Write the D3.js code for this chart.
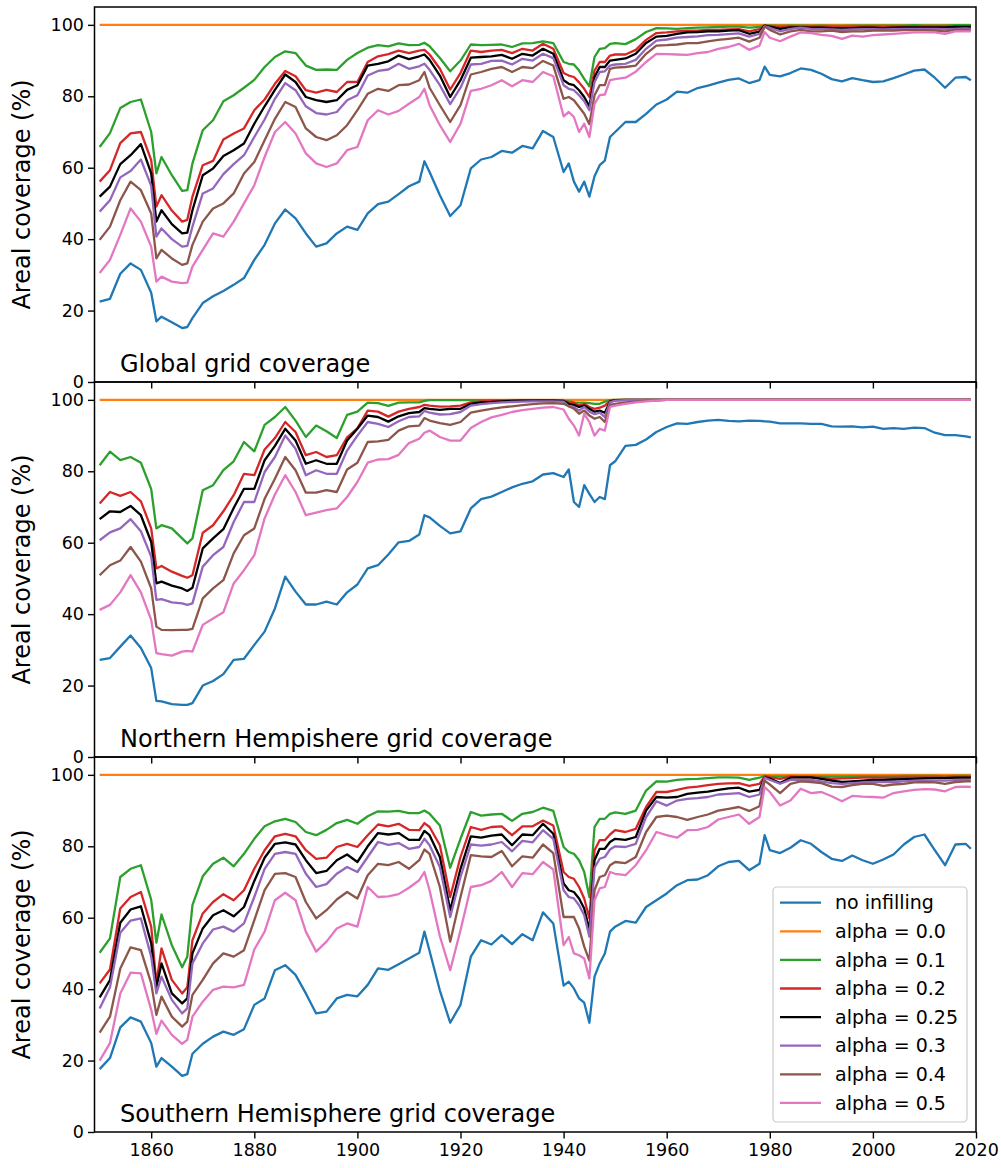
<!DOCTYPE html>
<html>
<head>
<meta charset="utf-8">
<script src="https://cdn.jsdelivr.net/npm/d3@7"></script>
<style>
  body { margin: 0; background: #fff; }
  svg { display: block; font-family: "DejaVu Sans", sans-serif; }
</style>
</head>
<body>
<svg id="chart" width="1001" height="1168"></svg>
<script>
const years = [1850,1852,1854,1856,1858,1860,1861,1862,1864,1866,1867,
  1868,1870,1872,1874,1876,1878,1880,1882,1884,1886,1888,1890,1892,1894,1896,1898,1900,1902,1904,1906,
  1908,1910,1912,1913,1914,1916,1918,1920,1922,1924,1926,1928,1930,1932,1934,1936,1938,1940,
  1941,1942,1943,1944,1945,1946,1947,1948,1949,1950,1952,1954,1956,1958,1960,
  1962,1964,1966,1968,1970,1972,1974,1976,1978,1979,1980,1982,1984,1986,1988,1990,1992,1994,1996,1998,2000,2002,2004,2006,2008,2010,2012,2014,2016,2018,2019];

// alpha = 0.0 gives full coverage in every panel
const alpha00 = [100,100,100,100,100,100,100,100,100,100,100,
  100,100,100,100,100,100,100,100,100,100,100,100,100,100,100,100,100,100,100,100,
  100,100,100,100,100,100,100,100,100,100,100,100,100,100,100,100,100,100,
  100,100,100,100,100,100,100,100,100,100,100,100,100,100,100,
  100,100,100,100,100,100,100,100,100,100,100,100,100,100,100,100,100,100,100,100,100,100,100,100,100,100,100,100,100,100,100];

// Global
const globalNone = [22.5,23.3,30.3,33.2,31.4,25.0,17.0,18.3,16.7,15.1,15.4,
  17.9,22.1,24.0,25.5,27.2,29.1,34.2,38.4,44.4,48.3,45.8,41.6,37.9,38.8,41.6,43.5,42.6,47.2,49.8,50.5,
  52.6,54.8,56.1,61.8,58.8,52.3,46.5,49.5,59.8,62.3,63.0,64.7,64.2,66.1,65.4,70.3,68.6,58.8,
  61.2,56.1,53.3,56.1,51.9,57.6,60.7,62.0,68.6,70.0,72.8,72.8,75.1,77.7,79.1,
  81.3,81.0,82.3,83.0,83.8,84.6,85.0,83.7,84.5,88.3,86.0,85.6,86.5,87.8,87.4,86.3,84.8,84.2,85.1,84.5,84.0,84.2,85.1,86.1,87.2,87.5,85.2,82.4,85.2,85.4,84.5];
const globalA10 = [65.8,69.7,76.7,78.4,79.1,70.0,58.4,63.0,57.9,53.5,53.7,
  61.2,70.5,73.3,78.6,80.3,82.4,84.6,88.2,91.0,92.6,92.1,88.6,87.4,87.5,87.4,90.2,92.1,93.6,94.3,94.0,
  94.8,94.3,94.4,95.0,94.0,90.7,87.0,90.0,94.5,94.3,94.4,94.5,93.8,94.8,94.9,95.4,94.9,89.6,
  89.1,88.9,87.2,84.9,82.8,91.0,93.3,93.5,94.7,94.9,94.6,96.0,98.0,99.1,99.0,
  98.9,99.1,99.2,99.3,99.4,99.5,99.5,99.2,99.4,99.8,99.8,99.7,99.8,99.8,99.7,99.8,99.7,99.7,99.8,99.8,99.8,99.8,99.8,99.8,99.9,99.8,99.8,99.8,99.9,99.9,99.9];
const globalA20 = [56.1,59.3,66.9,69.6,70.0,62.1,49.1,52.3,48.0,44.9,45.4,
  51.9,60.7,61.9,67.9,69.6,71.0,76.1,79.1,83.5,87.1,85.6,81.7,81.0,81.8,81.2,84.0,84.0,89.6,91.2,91.8,
  92.8,92.1,92.8,93.0,91.7,87.7,81.9,86.5,92.8,92.4,92.8,93.0,92.1,93.3,92.8,94.7,93.3,86.5,
  85.8,85.4,83.9,82.1,79.8,87.2,89.6,89.6,91.4,91.7,91.7,93.0,95.8,97.7,97.9,
  98.2,98.4,98.4,98.6,98.6,98.7,98.8,98.2,98.8,99.8,99.6,99.3,99.5,99.5,99.4,99.5,99.4,99.3,99.4,99.5,99.5,99.4,99.5,99.5,99.6,99.5,99.5,99.5,99.6,99.6,99.6];
const globalA25 = [51.9,54.7,61.0,63.5,66.6,58.4,44.9,48.1,44.2,41.6,41.8,
  48.1,57.9,59.8,63.3,64.9,66.8,72.3,77.2,81.8,86.1,84.0,79.8,78.9,78.4,78.9,81.8,83.1,88.6,89.1,89.8,
  91.4,90.4,91.2,91.7,90.2,85.8,79.8,84.5,90.8,91.0,91.2,91.6,90.5,91.9,91.4,93.3,91.9,84.5,
  83.5,83.1,81.7,79.8,77.2,85.4,88.2,88.2,90.0,90.2,90.6,91.9,94.9,96.7,96.9,
  97.5,97.9,98.0,98.2,98.2,98.4,98.5,97.5,98.1,99.8,99.5,98.9,99.3,99.3,99.2,99.2,99.1,99.0,99.1,99.2,99.2,99.1,99.2,99.3,99.3,99.3,99.3,99.3,99.4,99.4,99.4];
const globalA30 = [47.7,50.9,57.3,59.1,62.3,54.9,40.7,43.0,40.0,37.9,38.1,
  43.5,52.8,54.2,58.2,61.0,63.5,68.6,73.5,79.3,83.7,81.7,77.2,75.3,74.9,75.6,78.9,80.3,85.8,87.1,87.5,
  89.1,87.7,88.4,89.1,87.4,83.1,77.8,82.4,88.9,89.1,89.9,90.0,88.9,90.5,90.0,91.9,90.7,83.1,
  82.1,81.7,80.3,78.6,76.1,84.0,86.8,87.0,88.6,88.9,89.1,90.2,93.3,95.6,95.9,
  96.4,96.6,96.8,97.1,97.2,97.4,97.6,96.7,97.5,99.6,99.2,98.2,98.9,99.2,98.9,98.8,98.7,98.6,98.7,98.8,98.8,98.7,98.8,98.9,98.9,98.9,98.9,98.8,98.9,99.0,98.9];
const globalA40 = [39.8,43.5,50.9,56.1,53.7,47.2,34.6,37.0,34.6,32.8,33.2,
  38.4,44.9,48.6,50.0,52.8,58.4,61.6,67.7,73.7,78.4,77.0,71.0,68.6,67.7,69.1,71.9,76.1,80.7,82.1,81.5,
  83.1,83.3,84.5,86.8,82.4,77.5,72.8,77.5,86.1,86.8,87.7,88.2,86.8,88.2,87.9,89.9,88.6,79.3,
  79.8,78.9,77.0,75.1,72.2,80.3,83.1,83.1,87.7,88.0,88.2,88.6,91.9,94.2,94.3,
  94.5,94.9,94.9,95.4,95.8,96.1,96.4,95.3,96.4,99.5,98.6,97.3,98.2,98.6,98.2,98.2,98.4,98.0,98.2,98.2,98.4,98.4,98.4,98.5,98.5,98.5,98.4,98.2,98.6,98.6,98.6];
const globalA50 = [30.5,34.2,41.2,48.6,44.9,37.9,28.1,29.5,28.1,27.7,27.8,
  32.3,37.0,41.6,40.7,44.9,50.0,55.1,63.0,70.0,72.8,69.6,64.0,61.2,60.2,61.2,64.9,65.8,73.3,76.1,74.9,
  75.9,77.9,79.8,82.1,77.5,71.9,67.2,72.3,81.5,82.1,83.1,84.5,82.8,84.5,84.0,86.8,85.6,74.4,
  75.6,74.2,70.0,72.3,68.6,77.9,80.3,80.5,84.5,84.8,85.2,86.9,89.6,91.9,91.8,
  91.7,91.6,92.1,92.4,93.3,93.8,94.7,93.0,94.2,98.0,96.4,95.4,96.7,97.9,97.7,97.2,96.9,96.1,97.0,96.7,97.1,97.3,97.5,97.7,97.9,97.9,97.9,97.5,98.2,98.2,98.2];

// Northern Hemisphere
const northNone = [27.2,27.7,30.9,34.0,30.5,24.9,15.7,15.6,14.8,14.6,14.6,
  15.1,20.0,21.3,23.2,27.2,27.5,31.4,35.1,41.6,50.5,46.3,42.7,42.7,43.5,42.7,46.1,48.3,52.8,53.7,56.7,
  60.1,60.5,62.3,67.7,67.1,64.7,62.6,63.2,69.6,72.2,72.9,74.2,75.5,76.5,77.2,79.1,79.5,78.4,
  80.5,71.4,70.0,76.1,73.7,71.4,72.8,72.2,81.7,82.8,87.1,87.4,88.9,91.0,92.4,
  93.4,93.3,93.8,94.2,94.4,94.1,94.0,94.2,94.1,94.0,93.9,93.4,93.4,93.4,93.3,93.3,92.6,92.5,92.6,92.3,92.5,91.9,92.1,91.9,92.2,92.1,90.8,90.1,90.1,89.8,89.5];
const northA10 = [81.7,85.5,83.1,84.0,82.4,75.0,64.0,64.9,64.0,61.2,59.8,
  61.2,74.7,76.1,80.3,82.8,88.2,85.6,93.0,95.2,98.0,94.2,89.6,92.8,91.2,89.3,95.8,96.7,99.2,99.1,98.3,
  99.2,99.3,99.3,99.7,99.9,99.9,99.9,99.9,99.9,99.9,99.9,99.9,99.9,99.9,99.9,99.9,99.9,99.8,
  99.6,99.3,99.2,99.2,99.1,98.9,98.9,99.5,99.9,100,100,100,100,100,100,
  100,100,100,100,100,100,100,100,100,100,100,100,100,100,100,100,100,100,100,100,100,100,100,100,100,100,100,100,100,100,100];
const northA20 = [71.0,74.2,73.1,74.2,71.6,64.0,52.8,53.5,51.9,50.7,50.2,
  50.9,62.8,64.9,68.8,73.3,79.3,78.9,86.1,89.3,93.8,91.0,84.5,85.4,84.0,84.5,89.5,92.0,97.0,96.7,95.3,
  96.7,97.5,98.0,98.6,98.4,98.1,98.2,98.4,99.3,99.6,99.7,99.8,99.8,99.8,99.8,99.9,99.8,99.7,
  99.3,99.2,98.4,98.9,98.0,97.5,97.8,98.4,99.7,99.9,100,100,100,100,100,
  100,100,100,100,100,100,100,100,100,100,100,100,100,100,100,100,100,100,100,100,100,100,100,100,100,100,100,100,100,100,100];
const northA25 = [66.6,68.8,68.6,70.3,67.7,60.2,48.6,49.1,48.0,47.2,46.5,
  47.4,58.4,61.2,63.8,69.7,75.1,75.1,83.1,87.1,91.9,88.6,82.1,83.1,82.1,82.1,88.6,91.9,95.6,95.2,93.9,
  95.4,96.3,96.6,97.7,97.5,97.2,97.5,97.5,98.9,99.3,99.4,99.6,99.7,99.8,99.8,99.8,99.8,99.7,
  98.9,98.6,98.0,98.4,97.5,96.7,97.0,96.4,99.5,99.9,100,100,100,100,100,
  100,100,100,100,100,100,100,100,100,100,100,100,100,100,100,100,100,100,100,100,100,100,100,100,100,100,100,100,100,100,100];
const northA30 = [60.7,62.9,64.0,66.6,63.2,56.1,44.0,44.2,43.3,43.0,42.6,
  43.0,53.3,56.5,58.8,65.8,71.4,71.4,79.8,84.0,90.0,86.3,78.9,80.3,79.3,79.3,85.8,90.0,93.8,93.3,92.4,
  94.0,95.2,95.4,96.9,96.4,95.9,96.0,96.6,98.4,98.8,99.1,99.3,99.4,99.5,99.6,99.6,99.6,99.5,
  98.2,98.0,97.0,98.0,96.7,96.0,96.4,95.2,99.3,99.8,99.9,100,100,100,100,
  100,100,100,100,100,100,100,100,100,100,100,100,100,100,100,100,100,100,100,100,100,100,100,100,100,100,100,100,100,100,100];
const northA40 = [50.9,53.7,55.0,58.8,54.7,47.2,36.5,35.6,35.5,35.6,35.6,
  35.9,44.4,47.2,49.5,57.0,62.1,64.0,72.3,77.9,84.0,80.3,74.0,74.0,74.7,74.2,80.5,82.4,88.2,88.4,88.8,
  91.4,92.6,92.8,94.9,94.2,93.5,93.0,93.8,96.4,97.0,97.5,97.9,98.2,98.5,98.8,99.0,99.1,98.9,
  98.2,97.5,96.1,97.0,95.6,94.7,95.2,93.8,98.6,98.9,99.3,99.5,99.7,99.8,100,
  100,100,100,100,100,100,100,100,100,100,100,100,100,100,100,100,100,100,100,100,100,100,100,100,100,100,100,100,100,100,100];
const northA50 = [41.2,42.6,46.1,50.9,46.1,38.4,29.1,28.8,28.4,29.5,29.7,
  29.5,37.0,38.8,40.5,48.6,52.3,56.5,66.8,73.5,78.9,74.2,67.7,68.4,69.1,69.6,72.8,77.0,82.4,83.3,83.4,
  84.6,87.9,89.1,90.8,91.4,89.6,88.6,88.6,92.1,93.8,95.1,95.8,96.6,97.1,97.5,97.8,98.0,97.3,
  94.7,92.8,90.0,96.1,93.8,90.0,91.9,91.4,98.0,98.4,98.9,99.3,99.6,99.8,100,
  100,100,100,100,100,100,100,100,100,100,100,100,100,100,100,100,100,100,100,100,100,100,100,100,100,100,100,100,100,100,100];

// Southern Hemisphere
const southNone = [17.6,20.7,29.3,32.1,30.9,24.9,18.3,20.7,18.3,15.7,16.2,
  21.9,24.7,26.7,28.1,27.2,28.8,35.6,37.4,45.3,46.7,44.0,38.8,33.2,33.7,37.4,38.4,38.0,41.2,45.8,45.4,
  47.0,48.6,50.2,56.1,50.7,39.6,30.6,35.6,49.1,53.7,52.5,55.1,52.6,55.4,53.7,61.5,58.4,41.0,
  42.1,40.2,37.4,36.2,30.6,43.5,47.2,50.0,56.1,57.5,59.1,58.6,63.0,64.9,66.8,
  69.1,70.5,70.7,71.9,74.4,75.6,75.9,73.3,75.1,83.1,78.9,78.1,79.6,81.7,80.7,78.4,76.5,75.9,77.4,76.1,75.1,76.3,77.7,80.5,82.6,83.3,78.9,74.7,80.5,80.7,79.3];
const southA10 = [50.2,54.2,71.4,73.7,74.7,65.0,53.0,60.9,52.3,46.1,49.1,
  63.5,71.6,75.1,76.8,74.4,77.9,82.1,85.6,87.0,87.7,86.8,84.0,83.1,84.6,86.5,87.4,86.3,88.4,89.8,89.7,
  89.9,89.3,89.3,90.0,89.1,85.8,74.0,82.1,89.6,88.6,88.9,89.1,87.1,89.1,89.6,90.8,89.9,79.8,
  78.4,77.9,76.1,72.8,65.8,85.4,87.7,87.7,89.1,89.5,89.1,90.0,95.6,98.2,98.1,
  98.6,98.8,98.9,99.1,99.3,99.3,99.2,98.6,99.2,99.7,99.6,99.5,99.6,99.6,99.6,99.5,99.5,99.5,99.6,99.6,99.6,99.6,99.6,99.7,99.7,99.7,99.7,99.6,99.7,99.7,99.7];
const southA20 = [41.6,45.5,62.6,65.8,67.2,57.5,41.6,51.4,42.6,38.8,40.5,
  53.7,61.2,64.4,66.6,64.9,67.7,73.7,78.9,82.8,83.5,82.8,78.9,76.5,76.8,79.8,80.7,79.8,83.1,86.1,85.6,
  86.3,84.6,84.5,86.5,85.4,80.3,65.8,77.0,85.4,84.6,85.4,85.6,83.1,85.6,85.6,87.2,85.8,72.8,
  71.4,70.9,68.6,65.4,59.8,78.9,81.7,81.7,83.3,84.5,84.0,84.9,91.0,95.2,95.2,
  95.8,96.4,96.7,97.1,97.5,97.6,97.7,96.9,97.5,99.6,99.3,98.9,99.5,99.3,99.3,99.2,98.9,99.0,99.1,99.2,99.2,99.2,99.2,99.3,99.3,99.3,99.3,99.2,99.3,99.3,99.3];
const southA25 = [37.7,42.5,58.6,62.3,63.2,52.8,40.5,47.2,38.8,36.0,37.4,
  50.0,57.0,60.7,62.1,60.4,63.0,70.3,76.8,80.7,81.1,80.5,76.1,72.5,73.1,76.1,77.7,75.6,80.0,83.7,83.3,
  83.7,81.8,81.8,84.3,83.1,77.0,62.1,73.7,82.8,82.4,83.0,83.3,80.3,83.3,83.1,86.3,83.5,69.6,
  67.7,67.2,65.4,62.6,56.5,76.1,79.3,79.3,81.2,82.1,81.8,82.6,90.0,93.8,93.6,
  93.8,94.7,95.0,95.3,95.8,96.2,96.4,95.3,95.8,99.3,99.0,97.7,99.2,99.3,99.3,98.9,98.4,98.0,98.2,98.4,98.6,98.6,98.7,98.8,98.9,99.0,99.1,99.1,99.2,99.2,99.2];
const southA30 = [34.6,40.5,55.8,59.2,59.8,49.1,38.8,43.5,37.0,33.2,34.6,
  47.2,52.8,56.7,57.5,56.1,58.4,65.8,73.7,77.9,78.4,77.9,72.3,68.6,69.4,72.3,74.2,72.8,77.0,81.2,80.4,
  80.9,79.3,79.8,82.1,80.3,74.2,60.2,71.4,80.5,80.2,80.5,81.2,78.6,81.5,81.1,84.5,82.1,67.7,
  65.8,65.4,63.5,60.7,54.7,74.0,76.5,77.0,79.1,80.0,79.8,80.7,88.2,92.6,91.4,
  92.8,93.3,93.5,93.8,94.5,94.7,94.9,93.8,94.5,99.2,98.6,97.5,98.6,98.6,98.6,98.2,97.7,97.5,97.7,97.9,98.0,98.0,98.0,98.2,98.4,98.4,98.4,98.4,98.5,98.6,98.6];
const southA40 = [27.8,32.3,45.8,51.7,50.9,41.6,32.8,37.9,32.3,29.5,30.9,
  38.4,42.6,47.2,50.0,49.1,50.9,59.3,67.7,72.3,72.5,71.4,64.4,59.8,62.1,65.1,67.2,65.4,71.9,75.1,74.7,
  75.6,73.7,76.1,79.1,77.9,68.6,53.3,65.8,77.5,77.2,77.0,78.7,74.4,77.2,76.8,80.5,78.1,60.2,
  60.2,60.2,57.0,51.9,48.0,67.7,71.4,71.9,74.7,75.6,75.3,77.0,84.0,88.2,88.6,
  88.2,87.4,88.2,88.9,90.0,90.5,91.0,89.9,91.2,98.4,97.3,94.9,97.5,98.2,98.0,97.7,96.7,96.6,97.1,97.5,97.5,96.9,97.3,97.5,97.9,98.0,97.9,97.5,98.0,98.2,98.2];
const southA50 = [20.0,24.9,38.8,44.6,44.4,34.2,27.5,31.2,27.2,24.7,25.8,
  32.3,36.5,39.8,40.7,40.5,41.2,51.1,56.1,64.9,67.0,64.9,56.1,50.5,53.3,57.0,58.4,57.5,68.6,65.8,66.0,
  66.6,68.4,70.5,72.8,67.7,54.8,45.3,56.5,68.6,69.1,70.3,72.8,68.6,72.5,72.2,75.6,73.5,52.3,
  54.6,50.0,49.5,48.6,43.0,64.9,68.2,68.6,72.8,72.3,71.9,74.7,78.9,84.0,83.1,
  82.4,84.5,84.6,85.4,87.5,88.2,88.9,86.3,88.2,96.6,95.2,91.4,92.8,96.1,94.9,95.2,94.0,92.6,94.1,93.9,93.8,93.6,94.9,95.4,95.8,96.0,95.9,95.4,96.6,96.7,96.6];

const seriesNames = ["no infilling", "alpha = 0.0", "alpha = 0.1", "alpha = 0.2",
                     "alpha = 0.25", "alpha = 0.3", "alpha = 0.4", "alpha = 0.5"];
const seriesColors = ["#1f77b4", "#ff7f0e", "#2ca02c", "#d62728",
                      "#000000", "#9467bd", "#8c564b", "#e377c2"];
const panelTitles = ["Global grid coverage", "Northern Hempishere grid coverage",
                     "Southern Hemisphere grid coverage"];
const xTicks = [1860, 1880, 1900, 1920, 1940, 1960, 1980, 2000, 2020];
const yTicks = [0, 20, 40, 60, 80, 100];

let panels = [
  { title: panelTitles[0], series: [globalNone, alpha00, globalA10, globalA20, globalA25, globalA30, globalA40, globalA50] },
  { title: panelTitles[1], series: [northNone, alpha00, northA10, northA20, northA25, northA30, northA40, northA50] },
  { title: panelTitles[2], series: [southNone, alpha00, southA10, southA20, southA25, southA30, southA40, southA50] }
];

let svg = d3.select("#chart");
let left = 94.5, right = 976, top0 = 7, panelH = 375;
let tickFont = 17.5, labelFont = 24;

let x = d3.scaleLinear()
  .domain([1849, 2020])
  .range([left, right]);

panels.forEach(function(p, i) {
  let top = top0 + i * panelH;
  let bottom = top + panelH;
  let y = d3.scaleLinear()
    .domain([0, 105])
    .range([bottom, top]);

  let g = svg.append("g").attr("class", "panel");

  let line = d3.line()
    .x(function(d, k) { return x(years[k]); })
    .y(function(d) { return y(d); });

  p.series.forEach(function(vals, s) {
    g.append("path")
      .datum(vals)
      .attr("d", line)
      .attr("fill", "none")
      .attr("stroke", seriesColors[s])
      .attr("stroke-width", 2.3)
      .attr("stroke-linejoin", "round");
  });

  g.append("text")
    .attr("x", 120)
    .attr("y", bottom - 10)
    .attr("font-size", labelFont)
    .attr("fill", "#000")
    .text(p.title);

  // y axis
  let yAxis = g.append("g")
    .attr("transform", "translate(" + left + ",0)")
    .call(d3.axisLeft(y).tickValues(yTicks).tickSize(6.5).tickPadding(4));
  yAxis.select(".domain").remove();
  yAxis.selectAll(".tick line").attr("stroke", "#000").attr("stroke-width", 1.4);
  yAxis.selectAll(".tick text")
    .attr("font-size", tickFont)
    .attr("font-family", "DejaVu Sans")
    .attr("fill", "#000");

  // x axis: ticks on every panel, labels only at the bottom
  let xAxis = g.append("g")
    .attr("transform", "translate(0," + bottom + ")")
    .call(d3.axisBottom(x).tickValues(xTicks).tickSize(6.5).tickPadding(5)
      .tickFormat(i === panels.length - 1 ? d3.format("d") : ""));
  xAxis.select(".domain").remove();
  xAxis.selectAll(".tick line").attr("stroke", "#000").attr("stroke-width", 1.4);
  xAxis.selectAll(".tick text")
    .attr("font-size", tickFont)
    .attr("font-family", "DejaVu Sans")
    .attr("fill", "#000");

  g.append("rect")
    .attr("x", left)
    .attr("y", top)
    .attr("width", right - left)
    .attr("height", panelH)
    .attr("fill", "none")
    .attr("stroke", "#000")
    .attr("stroke-width", 1.5);

  g.append("text")
    .attr("transform", "translate(22," + (top + panelH / 2) + ") rotate(-90)")
    .attr("text-anchor", "middle")
    .attr("dy", "0.35em")
    .attr("font-size", labelFont)
    .attr("fill", "#000")
    .text("Areal coverage (%)");
});

// legend in the bottom panel
let legend = svg.append("g").attr("class", "legend");
legend.append("rect")
  .attr("x", 773)
  .attr("y", 887)
  .attr("width", 194)
  .attr("height", 235)
  .attr("rx", 4)
  .attr("fill", "#fff")
  .attr("fill-opacity", 0.8)
  .attr("stroke", "#cccccc")
  .attr("stroke-width", 1.2);

let rows = legend.selectAll(".row")
  .data(seriesNames)
  .enter().append("g")
  .attr("class", "row")
  .attr("transform", function(d, k) { return "translate(0," + (902.7 + k * 28.6) + ")"; });

rows.append("line")
  .attr("x1", 780)
  .attr("x2", 821)
  .attr("stroke", function(d, k) { return seriesColors[k]; })
  .attr("stroke-width", 2.3);

rows.append("text")
  .attr("x", 835)
  .attr("dy", "0.35em")
  .attr("font-size", 19)
  .attr("fill", "#000")
  .text(function(d) { return d; });
</script>
</body>
</html>
